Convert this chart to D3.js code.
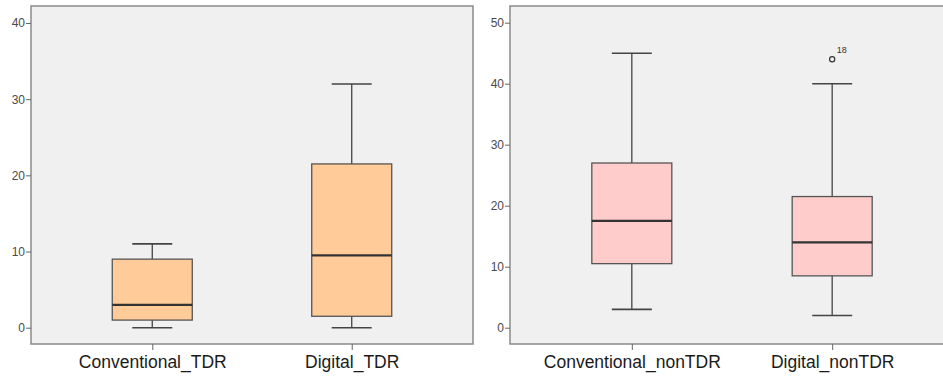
<!DOCTYPE html>
<html>
<head>
<meta charset="utf-8">
<script src="https://cdn.jsdelivr.net/npm/d3@7"></script>
<style>
  body { margin: 0; background: #fff; }
  svg { display: block; font-family: "Liberation Sans", Arial, sans-serif; }
</style>
</head>
<body>
<svg id="chart" width="943" height="376"></svg>
<script>
// data
var tdrGroups = ["Conventional_TDR", "Digital_TDR"];
var tdrStats = [
  { min: 0, q1: 1, median: 3, q3: 9, max: 11 },
  { min: 0, q1: 1.5, median: 9.5, q3: 21.5, max: 32 }
];
var tdrTicks = [0, 10, 20, 30, 40];

var nonGroups = ["Conventional_nonTDR", "Digital_nonTDR"];
var nonStats = [
  { min: 3, q1: 10.5, median: 17.5, q3: 27, max: 45 },
  { min: 2, q1: 8.5, median: 14, q3: 21.5, max: 40 }
];
var nonTicks = [0, 10, 20, 30, 40, 50];
var nonOutliers = [{ group: 1, value: 44, label: "18" }];

var svg = d3.select("#chart");

function boxPanel(groups, stats, ticks, outliers, opts) {
  var g = svg.append("g");
  var x = d3.scalePoint().domain(groups).range([opts.left, opts.right]).padding(0.608);
  var y = d3.scaleLinear().domain([0, opts.ymax]).range([327.7, opts.ytop]);

  g.append("rect")
    .attr("x", opts.left).attr("y", 6)
    .attr("width", opts.right - opts.left).attr("height", 338)
    .attr("fill", "#f0f0f0")
    .attr("stroke", "#8a8a8a").attr("stroke-width", 1.5);

  var yAxis = g.append("g")
    .attr("transform", "translate(" + opts.left + ",0)")
    .call(d3.axisLeft(y).tickValues(ticks).tickSize(5).tickPadding(1));
  yAxis.select(".domain").remove();
  yAxis.selectAll("line").attr("stroke", "#666");
  yAxis.selectAll("text").attr("fill", "#4a4a4a").style("font-size", "12px").style("font-family", "Liberation Sans, Arial, sans-serif");

  var xAxis = g.append("g")
    .attr("transform", "translate(0,344)")
    .call(d3.axisBottom(x).tickSize(6).tickPadding(6));
  xAxis.select(".domain").remove();
  xAxis.selectAll("line").attr("stroke", "#666");
  xAxis.selectAll("text").attr("fill", "#1a1a1a").style("font-size", "17.5px").style("font-family", "Liberation Sans, Arial, sans-serif");

  var bw = 80, cw = 40;
  var boxes = g.selectAll(".box").data(stats).enter().append("g")
    .attr("transform", function(d, i) { return "translate(" + x(groups[i]) + ",0)"; });

  boxes.append("line")
    .attr("x1", 0).attr("x2", 0)
    .attr("y1", function(d) { return y(d.max); })
    .attr("y2", function(d) { return y(d.min); })
    .attr("stroke", "#444").attr("stroke-width", 1.3);
  boxes.selectAll(".cap").data(function(d) { return [d.min, d.max]; }).enter().append("line")
    .attr("x1", -cw / 2).attr("x2", cw / 2)
    .attr("y1", function(v) { return y(v); }).attr("y2", function(v) { return y(v); })
    .attr("stroke", "#444").attr("stroke-width", 1.6);
  boxes.append("rect")
    .attr("x", -bw / 2).attr("width", bw)
    .attr("y", function(d) { return y(d.q3); })
    .attr("height", function(d) { return y(d.q1) - y(d.q3); })
    .attr("fill", opts.fill)
    .attr("stroke", "#555").attr("stroke-width", 1.3);
  boxes.append("line")
    .attr("x1", -bw / 2).attr("x2", bw / 2)
    .attr("y1", function(d) { return y(d.median); })
    .attr("y2", function(d) { return y(d.median); })
    .attr("stroke", "#333").attr("stroke-width", 2.2);

  g.selectAll(".out").data(outliers).enter().append("circle")
    .attr("cx", function(d) { return x(groups[d.group]); })
    .attr("cy", function(d) { return y(d.value); })
    .attr("r", 2.6)
    .attr("fill", "#f0f0f0").attr("stroke", "#333").attr("stroke-width", 1.2);
  g.selectAll(".outl").data(outliers).enter().append("text")
    .attr("x", function(d) { return x(groups[d.group]) + 4.5; })
    .attr("y", function(d) { return y(d.value) - 6; })
    .attr("fill", "#333").style("font-size", "9px")
    .text(function(d) { return d.label; });
}

boxPanel(tdrGroups, tdrStats, tdrTicks, [], { left: 31, right: 473, ymax: 40, ytop: 23, fill: "#ffcc99" });
boxPanel(nonGroups, nonStats, nonTicks, nonOutliers, { left: 510, right: 954, ymax: 50, ytop: 22.7, fill: "#ffcccc" });
</script>
</body>
</html>
